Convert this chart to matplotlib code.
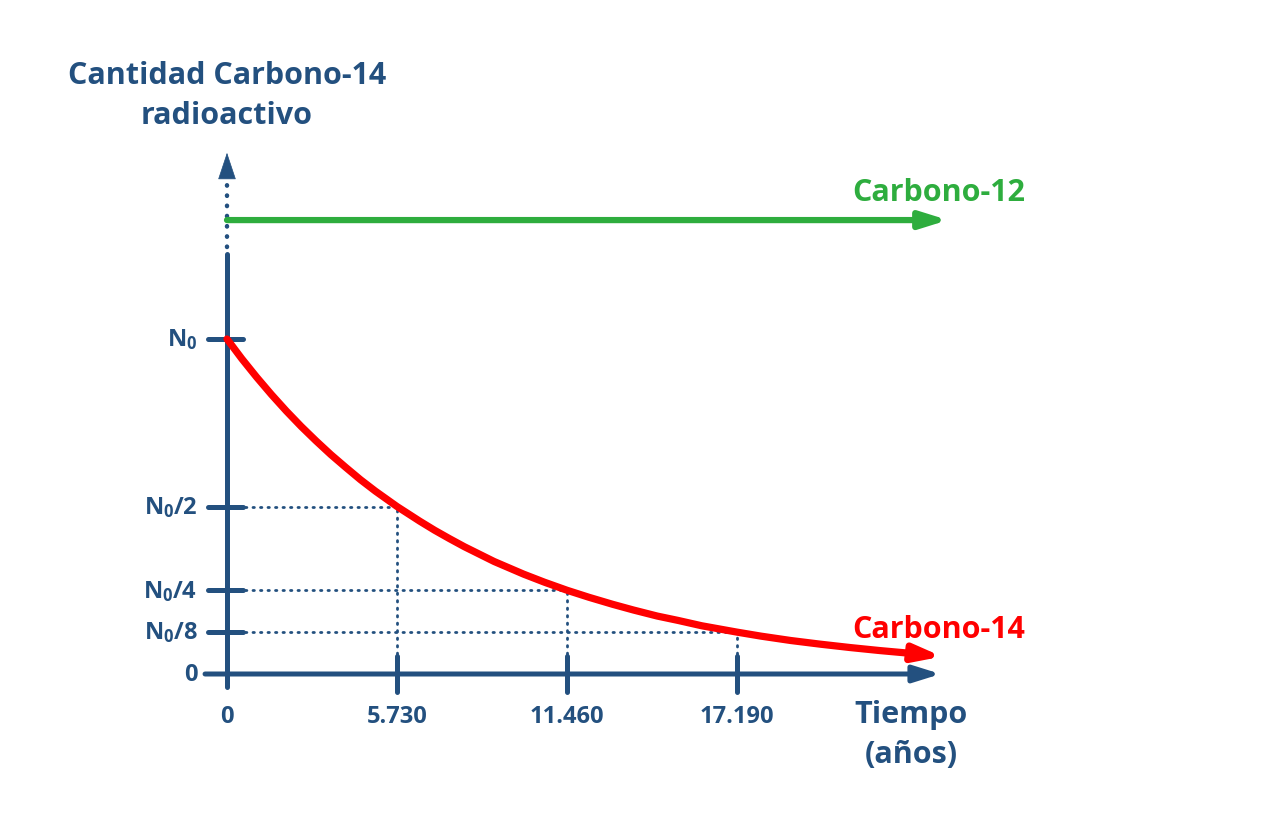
import matplotlib
matplotlib.use("Agg")
import matplotlib.pyplot as plt

plt.rcParams['font.family'] = ['Open Sans', 'DejaVu Sans']
plt.rcParams['mathtext.fontset'] = 'custom'
plt.rcParams['mathtext.rm'] = 'Open Sans:bold'
plt.rcParams['mathtext.bf'] = 'Open Sans:bold'
plt.rcParams['mathtext.it'] = 'Open Sans:bold'

NAVY = '#23507F'
GREEN = '#2EAD3E'
RED = '#FF0000'

# half-life marks (years) and their labels
half_life_years = [0, 5730, 11460, 17190]
half_life_labels = ['0', '5.730', '11.460', '17.190']

# amount levels (fraction of N0) and labels
levels = [1.0, 0.5, 0.25, 0.125, 0.0]
level_labels = [r'$\mathregular{N_0}$', r'$\mathregular{N_0/2}$', r'$\mathregular{N_0/4}$',
                r'$\mathregular{N_0/8}$', '0']

# carbon-14 curve
curve_t = [0, 500, 1000, 1500, 2000, 2500, 3000, 3500, 4000, 4500, 5000, 5730, 6500, 7000,
           7500, 8000, 8500, 9000, 9500, 10000, 10700, 11460, 12200, 13000, 13700, 14500,
           15200, 16000, 17190, 18000, 19000, 20000, 21000, 22000, 23000, 23500, 24100]
curve_n = [1.0, 0.941, 0.886, 0.834, 0.785, 0.739, 0.696, 0.655, 0.617, 0.58, 0.546, 0.5,
           0.456, 0.429, 0.404, 0.38, 0.358, 0.336, 0.317, 0.298, 0.274, 0.25, 0.229, 0.208,
           0.191, 0.173, 0.16, 0.144, 0.125, 0.113, 0.1, 0.089, 0.079, 0.07, 0.062, 0.058,
           0.052]

carbon12_level = 1.355
carbon12_end = 24300

# pixel layout of the original picture
px_per_year = 170 / 5730.0
px_per_unit = 335.0
x0_px, y0_px = 227, 675
W, H = 1278, 820

fig = plt.figure(figsize=(W / 100, H / 100), dpi=100)
ax = fig.add_axes([0, 0, 1, 1])
ax.set_xlim(-x0_px / px_per_year, (W - x0_px) / px_per_year)
ax.set_ylim(-(H - y0_px) / px_per_unit, y0_px / px_per_unit)
ax.axis('off')

head = dict(mutation_scale=20, shrinkA=0, shrinkB=0)
big_head = '-|>,head_length=0.8,head_width=0.25'

# y axis: solid, then dotted, then arrow head
ax.plot([0, 0], [-0.04, 1.254], color=NAVY, lw=3.6, solid_capstyle='round')
ax.plot([0, 0], [1.275, 1.49], color=NAVY, lw=3.2, linestyle=(0, (0.1, 2.2)),
        dash_capstyle='round')
ax.annotate('', xy=(0, 1.556), xytext=(0, 1.50),
            arrowprops=dict(arrowstyle='-|>,head_length=0.9,head_width=0.3',
                            color=NAVY, lw=0.5, **head))

# x axis with arrow
ax.annotate('', xy=(24050, 0), xytext=(-740, 0),
            arrowprops=dict(arrowstyle=big_head, color=NAVY, lw=3.6, **head))

# ticks
for lv in levels[:-1]:
    ax.plot([-640, 540], [lv, lv], color=NAVY, lw=3.6, solid_capstyle='round')
for t in half_life_years[1:]:
    ax.plot([t, t], [-0.054, 0.054], color=NAVY, lw=3.6, solid_capstyle='round')

# dotted guides
for t, lv in zip(half_life_years[1:], levels[1:4]):
    ax.plot([610, t], [lv, lv], color=NAVY, lw=2, linestyle=(0, (0.5, 2.2)),
            dash_capstyle='round')
    ax.plot([t, t], [0.06, lv], color=NAVY, lw=2, linestyle=(0, (0.5, 2.2)),
            dash_capstyle='round')

# carbon-12 line
ax.annotate('', xy=(carbon12_end, carbon12_level), xytext=(0, carbon12_level),
            arrowprops=dict(arrowstyle=big_head, color=GREEN, lw=4.5, **head))

# carbon-14 curve
ax.plot(curve_t[:-1], curve_n[:-1], color=RED, lw=5.2, solid_capstyle='round',
        solid_joinstyle='round')
ax.annotate('', xy=(curve_t[-1], curve_n[-1]), xytext=(curve_t[-2], curve_n[-2]),
            arrowprops=dict(arrowstyle=big_head, color=RED, lw=5, **head))

# labels
for lv, lab in zip(levels, level_labels):
    ax.text(-1000, lv, lab, color=NAVY, fontsize=17, fontweight='bold',
            ha='right', va='center')
for t, lab in zip(half_life_years, half_life_labels):
    ax.text(t, -0.125, lab, color=NAVY, fontsize=17, fontweight='bold',
            ha='center', va='center')

ax.text(0, 1.728, 'Cantidad Carbono-14\nradioactivo', color=NAVY, fontsize=22,
        fontweight='bold', ha='center', va='center', linespacing=1.42)
ax.text(23050, -0.18, 'Tiempo\n(años)', color=NAVY, fontsize=22,
        fontweight='bold', ha='center', va='center', linespacing=1.42)
ax.text(26900, 1.439, 'Carbono-12', color=GREEN, fontsize=22, fontweight='bold',
        ha='right', va='center')
ax.text(26900, 0.134, 'Carbono-14', color=RED, fontsize=22, fontweight='bold',
        ha='right', va='center')

fig.savefig('out.png', dpi=100)
